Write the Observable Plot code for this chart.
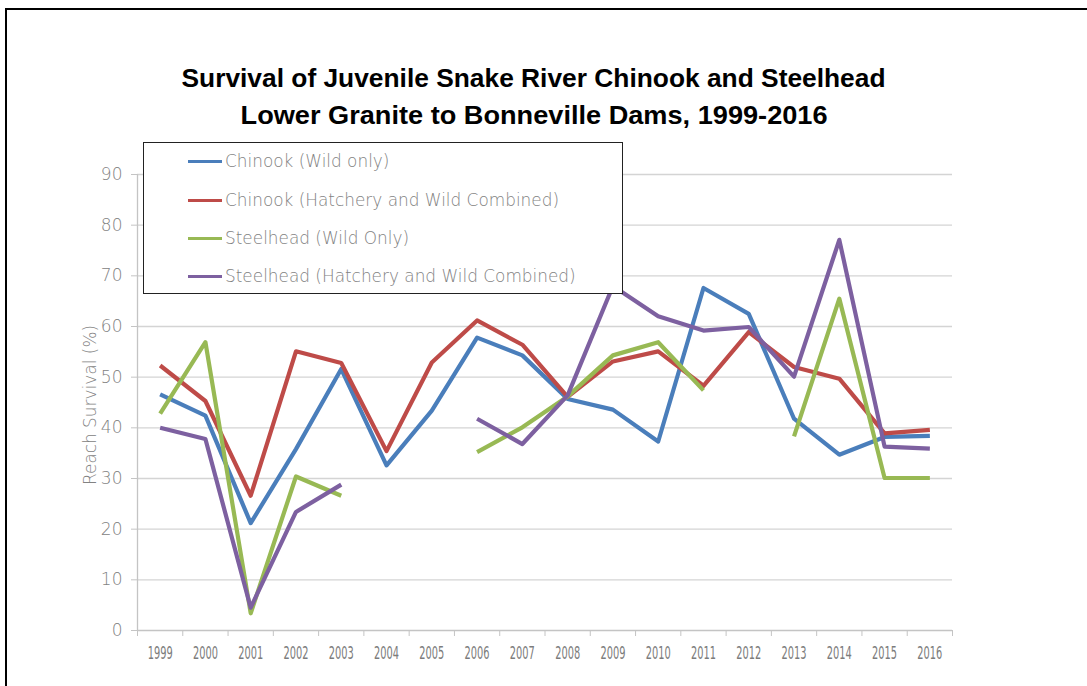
<!DOCTYPE html>
<html>
<head>
<meta charset="utf-8">
<script src="https://cdn.jsdelivr.net/npm/d3@7"></script>
<script src="https://cdn.jsdelivr.net/npm/@observablehq/plot@0.6"></script>
<style>
  html, body { margin: 0; padding: 0; background: #fff; }
  #wrap { position: relative; width: 1087px; height: 686px; overflow: hidden; background: #fff; }
  #frame { position: absolute; left: 5px; top: 8px; width: 1100px; height: 700px; border: 2px solid #000; box-sizing: border-box; }
  #chart { position: absolute; left: 0; top: 0; }
  #title { position: absolute; left: 0; top: 60px; width: 1068px; text-align: center;
           font-family: "Liberation Sans", Arial, sans-serif; font-weight: bold;
           font-size: 26px; line-height: 37px; color: #000; }
  #title span { display: inline-block; white-space: nowrap; transform-origin: center; }
  #ylabel { position: absolute; left: 90px; top: 405px; transform: translate(-50%, -50%) rotate(-90deg);
            font-family: "DejaVu Sans", sans-serif; font-weight: 300; font-size: 16px; color: #828282; white-space: nowrap; }
  #legend { position: absolute; left: 143px; top: 142px; width: 480px; height: 152px; box-sizing: border-box;
            border: 1.5px solid #222; background: #fff; }
  .row { position: absolute; left: 44px; height: 24px; display: flex; align-items: center;
         font-family: "DejaVu Sans", sans-serif; font-weight: 300; font-size: 16px; color: #828282; white-space: nowrap; }
  .swatch { width: 34px; height: 3px; margin-right: 3px; flex: none; }
</style>
</head>
<body>
<div id="wrap">
  <div id="frame"></div>
  <div id="chart"></div>
  <div id="title"><span id="t1"></span><br><span id="t2"></span></div>
  <div id="ylabel"></div>
  <div id="legend"></div>
</div>
<script>
const titleLines = ["Survival of Juvenile Snake River Chinook and Steelhead", "Lower Granite to Bonneville Dams, 1999-2016"];
const yLabel = "Reach Survival (%)";
const years = [1999, 2000, 2001, 2002, 2003, 2004, 2005, 2006, 2007, 2008, 2009, 2010, 2011, 2012, 2013, 2014, 2015, 2016];
const yTicks = [0, 10, 20, 30, 40, 50, 60, 70, 80, 90];
const seriesNames = ["Chinook (Wild only)", "Chinook (Hatchery and Wild Combined)", "Steelhead (Wild Only)", "Steelhead (Hatchery and Wild Combined)"];
const seriesColors = ["#4a7ebb", "#be4b48", "#98b954", "#7d60a0"];
const chinookWild = [46.6, 42.4, 21.2, 35.8, 51.6, 32.6, 43.4, 57.8, 54.3, 45.7, 43.6, 37.3, 67.6, 62.5, 41.8, 34.7, 38.2, 38.4];
const chinookCombined = [52.3, 45.3, 26.6, 55.1, 52.8, 35.4, 52.9, 61.2, 56.4, 46.1, 53.1, 55.1, 48.3, 58.9, 52.0, 49.7, 38.9, 39.6];
const steelheadWild = [42.8, 56.9, 3.4, 30.4, 26.6, null, null, 35.2, 40.1, 46.2, 54.3, 56.9, 47.4, null, 38.3, 65.5, 30.1, 30.1];
const steelheadCombined = [40.0, 37.8, 4.5, 23.4, 28.8, null, null, 41.8, 36.8, 46.4, 68.0, 62.0, 59.2, 59.9, 50.1, 77.1, 36.3, 35.9];
const seriesValues = [chinookWild, chinookCombined, steelheadWild, steelheadCombined];

const data = seriesNames.flatMap((name, i) => years.map((yr, j) => ({year: yr, value: seriesValues[i][j], series: name})));
const bandEdges = [years[0] - 0.5, ...years.map(y => y + 0.5)];

const chart = Plot.plot({
  width: 1087,
  height: 686,
  marginLeft: 137,
  marginRight: 135,
  marginTop: 174,
  marginBottom: 56,
  style: {background: "transparent", fontFamily: "'DejaVu Sans', sans-serif", fontSize: "16px"},
  x: {domain: [bandEdges[0], bandEdges[bandEdges.length - 1]], axis: null},
  y: {domain: [0, 90], axis: null},
  color: {domain: seriesNames, range: seriesColors},
  marks: [
    Plot.gridY(yTicks.slice(1), {stroke: "#d4d4d4", strokeOpacity: 1, strokeWidth: 1.3}),
    Plot.ruleX([bandEdges[0]], {stroke: "#c4c4c4", strokeWidth: 1.3}),
    Plot.ruleY([0], {stroke: "#c4c4c4", strokeWidth: 1.3}),
    Plot.axisY(yTicks, {tickSize: 6, tickPadding: 9, color: "#828282", label: null}),
    Plot.axisX(bandEdges, {tickSize: 6, tickFormat: () => "", color: "#c4c4c4", label: null}),
    Plot.axisX(years, {tickSize: 0, tickPadding: 16, tickFormat: d => String(d), color: "#7c7c7c", label: null}),
    Plot.line(data, {x: "year", y: "value", z: "series", stroke: "series", strokeWidth: 4.2, strokeLinejoin: "round", strokeLinecap: "butt"})
  ]
});
document.getElementById("chart").appendChild(chart);

const svg = d3.select(chart);
svg.selectAll('g[aria-label="y-axis tick"]').attr("stroke", "#c4c4c4");
svg.selectAll('g[aria-label="y-axis tick label"]').attr("font-size", 17).style("font-size", "17px").style("font-weight", 300);
svg.selectAll('g[aria-label="x-axis tick label"] text').filter(function () { return this.textContent.length > 0; })
  .attr("font-size", 18).style("font-size", "18px").style("font-weight", 400)
  .attr("textLength", 25).attr("lengthAdjust", "spacingAndGlyphs");

// title
const t1 = document.getElementById("t1"), t2 = document.getElementById("t2");
t1.textContent = titleLines[0];
t2.textContent = titleLines[1];
[[t1, 704], [t2, 587]].forEach(([el, target]) => {
  const w = el.getBoundingClientRect().width;
  if (w > 0) el.style.transform = `scaleX(${target / w})`;
});

// fit text to a measured width by adjusting its font size
function fitFont(el, target) {
  const w = el.scrollWidth || el.getBoundingClientRect().width;
  const fs = parseFloat(getComputedStyle(el).fontSize);
  if (w > 0) el.style.fontSize = (fs * target / w) + "px";
}

const yl = document.getElementById("ylabel");
yl.textContent = yLabel;
fitFont(yl, 160);

// legend
const legend = document.getElementById("legend");
const rowCenters = [18, 57, 95, 133];
const labels = [];
seriesNames.forEach((name, i) => {
  const row = document.createElement("div");
  row.className = "row";
  row.style.top = (rowCenters[i] - 12) + "px";
  const sw = document.createElement("div");
  sw.className = "swatch";
  sw.style.background = seriesColors[i];
  const label = document.createElement("span");
  label.textContent = name;
  row.appendChild(sw);
  row.appendChild(label);
  legend.appendChild(row);
  labels.push(label);
});
// longest legend label spans about 351px in the reference
const longest = labels[3];
const lw = longest.getBoundingClientRect().width;
if (lw > 0) {
  const fs = parseFloat(getComputedStyle(longest).fontSize) * 351 / lw;
  labels.forEach(l => l.style.fontSize = fs + "px");
}
</script>
</body>
</html>
